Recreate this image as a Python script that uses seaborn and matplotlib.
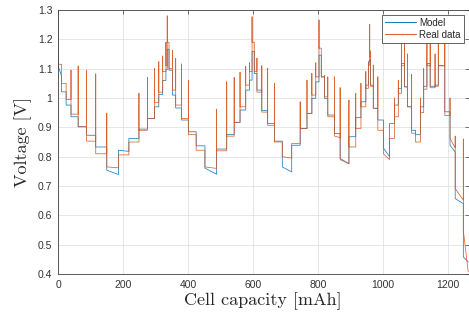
import matplotlib
matplotlib.use("Agg")
import matplotlib.pyplot as plt
import pandas as pd
import seaborn as sns

# step boundaries of the pulse discharge [mAh]
edges = [0, 11, 25, 40, 62, 88, 116, 150, 186, 218,
         249, 275, 297, 310, 322, 332, 336, 341.5, 352, 362,
         380, 401, 425, 452, 488, 519, 542, 560, 577.5, 589,
         597, 604, 612, 627, 645, 666, 690, 719, 745, 766,
         781, 793, 803, 810, 820, 830, 851, 868, 895, 916,
         932, 947, 955, 959, 961, 970, 984, 1001, 1020, 1035,
         1047, 1057, 1066, 1075, 1088, 1100, 1115, 1125, 1135, 1145,
         1160, 1170, 1190, 1206, 1222, 1247, 1262]

# voltage at the start of each step [V]
model_level = [1.11, 1.021, 0.976, 0.936, 0.902, 0.873, 0.833, 0.754, 0.822, 0.862,
               0.894, 0.93, 0.97, 1.012, 1.06, 1.097, 1.166, 1.095, 1.01, 0.966,
               0.925, 0.885, 0.837, 0.761, 0.826, 0.876, 0.917, 0.959, 1.027, 1.061,
               1.158, 1.084, 1.027, 0.957, 0.913, 0.853, 0.765, 0.839, 0.896, 0.947,
               0.999, 1.055, 1.146, 1.072, 0.999, 0.942, 0.879, 0.794, 0.868, 0.933,
               0.987, 1.044, 1.124, 1.13, 1.044, 0.965, 0.925, 0.83, 0.913, 0.976,
               1.033, 1.118, 1.038, 0.97, 0.89, 0.875, 0.97, 1.04, 1.118, 1.04,
               1.044, 1.11, 0.953, 0.839, 0.657, 0.458]
real_level = [1.115, 1.05, 0.995, 0.945, 0.902, 0.853, 0.81, 0.765, 0.806, 0.85,
              0.89, 0.93, 0.985, 1.02, 1.09, 1.11, 1.19, 1.10, 1.027, 0.976,
              0.93, 0.875, 0.822, 0.765, 0.82, 0.87, 0.917, 0.97, 1.044, 1.09,
              1.19, 1.09, 1.02, 0.952, 0.907, 0.85, 0.80, 0.845, 0.896, 0.947,
              1.01, 1.072, 1.17, 1.072, 1.004, 0.936, 0.87, 0.79, 0.833, 0.896,
              0.97, 1.033, 1.112, 1.14, 1.04, 0.965, 0.89, 0.81, 0.862, 0.936,
              1.016, 1.11, 1.038, 0.97, 0.88, 0.85, 0.95, 1.03, 1.11, 1.035,
              1.04, 1.11, 0.94, 0.862, 0.691, 0.549]

# relaxation peak reached at the start of a step (0 = none)
real_spike = [1.30, 0, 0, 1.095, 1.109, 1.095, 1.082, 0.948, 0, 0,
              1.016, 1.07, 1.10, 1.124, 1.143, 1.19, 1.28, 1.19, 1.163, 1.135,
              1.116, 1.06, 0, 0, 0.962, 1.055, 1.07, 1.088, 1.108, 1.12,
              1.277, 1.19, 1.136, 1.11, 1.101, 1.05, 0, 0, 0.987, 1.061,
              1.084, 1.12, 1.266, 1.14, 1.077, 1.072, 1.072, 1.035, 0.993, 1.016,
              1.05, 1.09, 1.12, 1.251, 1.16, 1.112, 1.072, 0, 0, 1.0,
              1.06, 1.19, 1.19, 1.15, 1.08, 0, 1.0, 1.1, 1.22, 1.22,
              1.15, 1.22, 1.22, 1.0, 0.87, 0.86]
model_spike = {0: 1.18}

# steps where the voltage sags during the pulse: end value
model_end = {0: 1.075, 7: 0.739, 8: 0.818, 23: 0.74, 36: 0.748, 47: 0.776,
             57: 0.80, 73: 0.816, 74: 0.64, 75: 0.441}
real_end = {7: 0.762, 23: 0.76, 36: 0.795, 46: 0.865, 47: 0.776, 57: 0.79,
            73: 0.83, 74: 0.652, 75: 0.407}

x_ticks = [0, 200, 400, 600, 800, 1000, 1200]
y_ticks = [0.4, 0.5, 0.6, 0.7, 0.8, 0.9, 1.0, 1.1, 1.2, 1.3]
y_tick_labels = ["0.4", "0.5", "0.6", "0.7", "0.8", "0.9", "1", "1.1", "1.2", "1.3"]


def build_trace(name, levels, ends, spikes):
    rows = []
    for i, lv in enumerate(levels):
        if spikes.get(i, 0):
            rows.append((edges[i], spikes[i], name))
        rows.append((edges[i], lv, name))
        rows.append((edges[i + 1], ends.get(i, lv), name))
    return rows


rows = build_trace("Model", model_level, model_end, model_spike)
rows += build_trace("Real data", real_level, real_end, dict(enumerate(real_spike)))
df = pd.DataFrame(rows, columns=["capacity", "voltage", "series"])

sns.set_theme(style="white")
plt.rcParams["font.family"] = ["Liberation Sans", "DejaVu Sans"]

fig, ax = plt.subplots(figsize=(4.69, 3.13), dpi=100)
fig.subplots_adjust(left=0.1237, right=0.999, bottom=0.1246, top=0.968)

sns.lineplot(data=df, x="capacity", y="voltage", hue="series", sort=False,
             estimator=None, palette=["#0072BD", "#D95319"], linewidth=0.55,
             alpha=0.9, ax=ax)

ax.set_xlim(0, 1263)
ax.set_ylim(0.4, 1.3)
ax.set_xticks(x_ticks)
ax.set_yticks(y_ticks)
ax.set_yticklabels(y_tick_labels)
ax.grid(True, color="#dcdcdc", linewidth=0.5)
ax.set_axisbelow(True)
ax.tick_params(direction="in", length=3, width=0.5, colors="#404040",
               labelsize=7.5, labelcolor="#333333", top=True, right=True, pad=4)
for s in ax.spines.values():
    s.set_color("#404040")
    s.set_linewidth(0.6)

ax.set_xlabel("Cell capacity [mAh]", family=["cmr10", "DejaVu Serif"], fontsize=13,
              color="#262626", labelpad=2)
ax.set_ylabel("Voltage [V]", family=["cmr10", "DejaVu Serif"], fontsize=13,
              color="#262626", labelpad=4)

handles, labels = ax.get_legend_handles_labels()
leg = ax.legend(handles, labels, loc="upper right", fontsize=7, frameon=True,
                fancybox=False, framealpha=1, edgecolor="#262626",
                handlelength=3.2, borderpad=0.3, labelspacing=0.2,
                handletextpad=0.3, borderaxespad=0.5)
leg.get_frame().set_linewidth(0.5)
for h in leg.get_lines():
    h.set_linewidth(0.8)

plt.savefig("out.png", dpi=100)
